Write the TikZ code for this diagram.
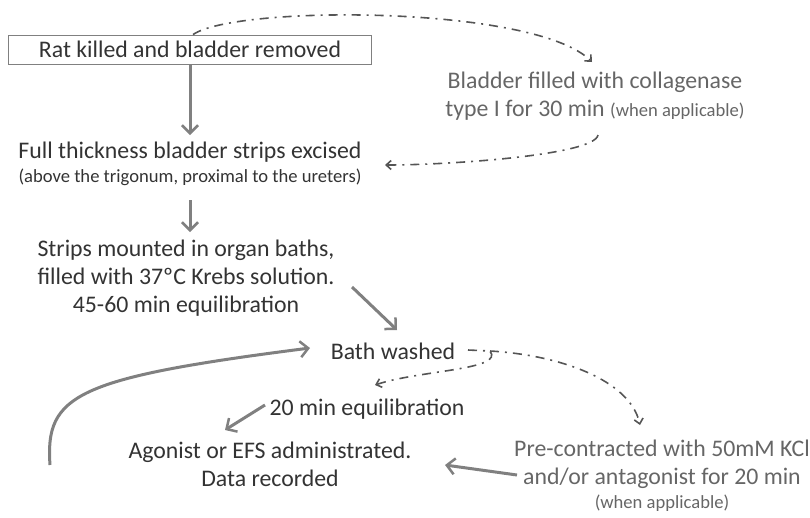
\documentclass[tikz,border=0pt]{standalone}
\usepackage{fontspec}
\setmainfont{Carlito}
\usetikzlibrary{arrows.meta}
\definecolor{txtdark}{HTML}{333333}
\definecolor{txtlight}{HTML}{666666}
\definecolor{arrowgray}{HTML}{808080}
\definecolor{dashgray}{HTML}{555555}
\tikzset{
  steptext/.style={text=txtdark,align=center,font=\fontsize{23.8}{28}\selectfont},
  optext/.style={text=txtlight,align=center,font=\fontsize{23.8}{28}\selectfont},
  flow/.style={arrowgray,line width=3pt,-{Straight Barb[length=8pt,width=16pt,line width=2.5pt]}},
  option/.style={dashgray,line width=1.6pt,dash pattern=on 9pt off 6pt on 2pt off 6pt,-{Straight Barb[length=5pt,width=9pt]}}
}
\newcommand{\smalltxt}[1]{{\fontsize{18.6}{22}\selectfont #1}}
\begin{document}
\begin{tikzpicture}[x=1pt,y=-1pt]
\useasboundingbox (0,0) rectangle (810,517);
\node[steptext,draw=arrowgray,line width=0.8pt,minimum width=363pt,minimum height=29pt,inner sep=0pt] (rat) at (190,49.5) {Rat killed and bladder removed};
\node[optext] (coll) at (595,96) {Bladder filled with collagenase\\type I for 30 min \smalltxt{(when applicable)}};
\node[steptext] (full) at (190,164) {Full thickness bladder strips excised\\[-4pt]\smalltxt{(above the trigonum, proximal to the ureters)}};
\node[steptext] (strips) at (186,278) {Strips mounted in organ baths,\\filled with 37ºC Krebs solution.\\45-60 min equilibration};
\node[steptext] (bath) at (393,351) {Bath washed};
\node[steptext] (eq) at (367,409) {20 min equilibration};
\node[steptext] (ago) at (270,464) {Agonist or EFS administrated.\\Data recorded};
\node[optext] (pre) at (662,476) {Pre-contracted with 50mM KCl\\and/or antagonist for 20 min\\[-4pt]\smalltxt{(when applicable)}};
% main steps
\draw[flow] (rat.south) -- ([shift={(0,-29)}]full.center);
\draw[flow] ([shift={(0,36)}]full.center) -- ([shift={(4,-46)}]strips.center);
\draw[flow] ([shift={(166,9)}]strips.center) -- ([shift={(4,-21)}]bath.center);
\draw[flow] ([shift={(-102,-4)}]eq.center) -- ([shift={(-45,-34)}]ago.center);
\draw[flow] ([shift={(-145,-1)}]pre.center) -- ([shift={(175,1)}]ago.center);
\draw[flow] ([shift={(-220,1)}]ago.center) .. controls (45,395) and (75,378) .. ([shift={(-83,-3)}]bath.center);
% optional steps
\draw[option] ([xshift=3pt]rat.north) .. controls (235,5) and (535,5) .. ([shift={(-3,-34)}]coll.center);
\draw[option] ([shift={(3,39)}]coll.center) .. controls (595,155) and (450,165) .. ([shift={(195,1)}]full.center);
\draw[option] ([shift={(75,-1)}]bath.center) -- ++(22,1) .. controls (505,370) and (420,370) .. ([shift={(8,-24)}]eq.center);
\draw[option] ([shift={(97,0)}]bath.center) .. controls (560,355) and (630,380) .. ([shift={(-22,-51)}]pre.center);
\end{tikzpicture}
\end{document}
